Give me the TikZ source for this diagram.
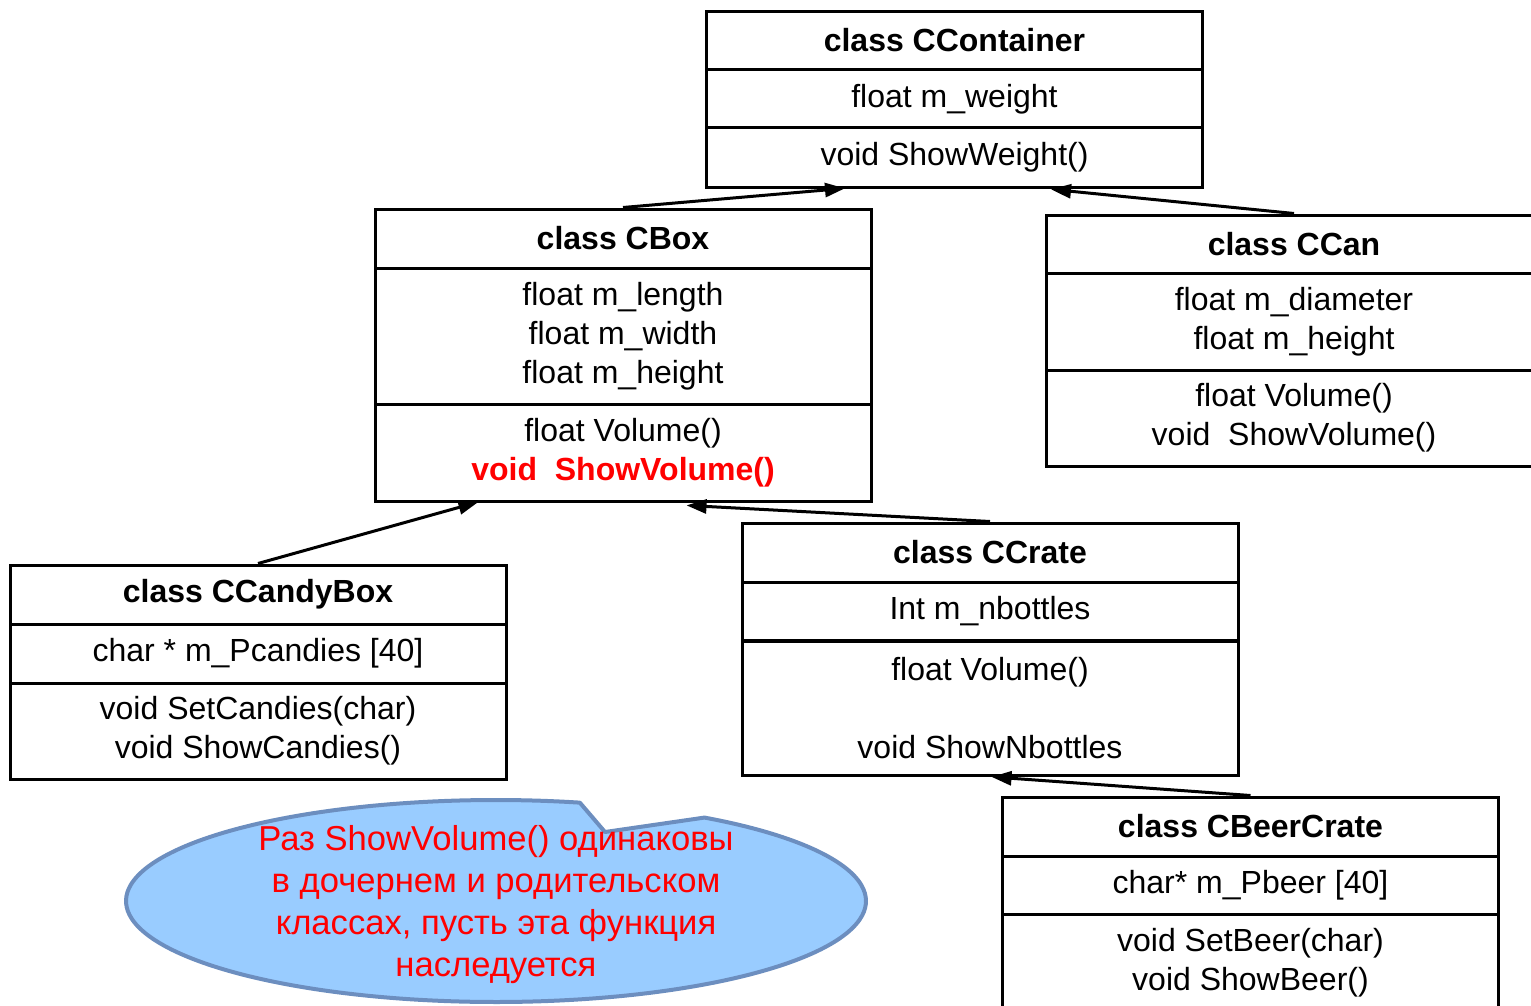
\documentclass[tikz,border=0pt]{standalone}
\usepackage{fontspec}
\setmainfont{Liberation Sans}
\usetikzlibrary{arrows.meta,calc}
\definecolor{calloutfill}{RGB}{153,204,255}
\definecolor{calloutdraw}{RGB}{108,142,191}
\begin{document}
\begin{tikzpicture}[x=0.5pt,y=-0.5pt,
  cell/.style={draw=black, line width=1.5pt, align=center, inner sep=0pt, font=\fontsize{16}{19.5}\selectfont},
  w1/.style={minimum width=248pt},
  inh/.style={draw=black, line width=1.5pt, -{Triangle[length=10pt,width=7pt]}, shorten >=-1pt},
  calltext/.style={align=center, text=red, inner sep=0pt, font=\fontsize{17.3}{21}\selectfont}]
\useasboundingbox (0,0) rectangle (1531,1006);
\clip (0,0) rectangle (1531,1006);

% CContainer
\node[cell, w1, minimum height=29pt] (cont-h) at (954.5,40.5) {\bfseries class CContainer};
\node[cell, w1, minimum height=29pt] (cont-a) at (954.5,99) {float m\_weight};
\node[cell, w1, minimum height=29.5pt] (cont-m) at (954.5,157.5) {void ShowWeight()};

% CBox
\node[cell, w1, minimum height=29.5pt] (box-h) at (623,238.5) {\bfseries class CBox};
\node[cell, w1, minimum height=68pt] (box-a) at (623,336) {float m\_length\\float m\_width\\float m\_height};
\node[cell, w1, minimum height=48.5pt] (box-m) at (623,452.5) {float Volume()\\\textcolor{red}{\bfseries void\ \ ShowVolume()}};

% CCan
\node[cell, w1, minimum height=29pt] (can-h) at (1294,244) {\bfseries class CCan};
\node[cell, w1, minimum height=48.5pt] (can-a) at (1294,321.5) {float m\_diameter\\float m\_height};
\node[cell, w1, minimum height=48pt] (can-m) at (1294,418) {float Volume()\\void\ \ ShowVolume()};

% CCandyBox
\node[cell, w1, minimum height=29.5pt] (candy-h) at (258,594.5) {\bfseries class CCandyBox};
\node[cell, w1, minimum height=29.5pt] (candy-a) at (258,653.5) {char * m\_Pcandies [40]};
\node[cell, w1, minimum height=48pt] (candy-m) at (258,731) {void SetCandies(char)\\void ShowCandies()};

% CCrate
\node[cell, w1, minimum height=29.5pt] (crate-h) at (990,552.5) {\bfseries class CCrate};
\node[cell, w1, minimum height=29.5pt] (crate-a) at (990,611.5) {Int m\_nbottles};
\node[cell, w1, minimum height=67.5pt] (crate-m) at (990,708) {float Volume()\\\mbox{}\\void ShowNbottles};

% CBeerCrate
\node[cell, w1, minimum height=29.5pt] (beer-h) at (1250.5,826.5) {\bfseries class CBeerCrate};
\node[cell, w1, minimum height=29pt] (beer-a) at (1250.5,885) {char* m\_Pbeer [40]};
\node[cell, w1, minimum height=48.5pt] (beer-m) at (1250.5,962.5) {void SetBeer(char)\\void ShowBeer()};

% inheritance arrows
\draw[inh] (box-h.north) -- ($(cont-m.south west)+(138,0)$);
\draw[inh] (can-h.north) -- ($(cont-m.south west)+(348,1)$);
\draw[inh] (candy-h.north) -- ($(box-m.south west)+(103,0)$);
\draw[inh] (crate-h.north) -- ($(box-m.south west)+(315,3)$);
\draw[inh] (beer-h.north) -- ($(crate-m.south west)+(253,0)$);

% callout
\filldraw[fill=calloutfill, draw=calloutdraw, line width=2pt, line join=round]
  plot[smooth, domain=-55.7:283.1, samples=160] ({496+370*cos(\x)},{901+101*sin(\x)})
  -- (605,832) -- cycle;
\node[calltext] (note) at (496,905) {Раз ShowVolume() одинаковы\\в дочернем и родительском\\классах, пусть эта функция\\наследуется};
\end{tikzpicture}
\end{document}
